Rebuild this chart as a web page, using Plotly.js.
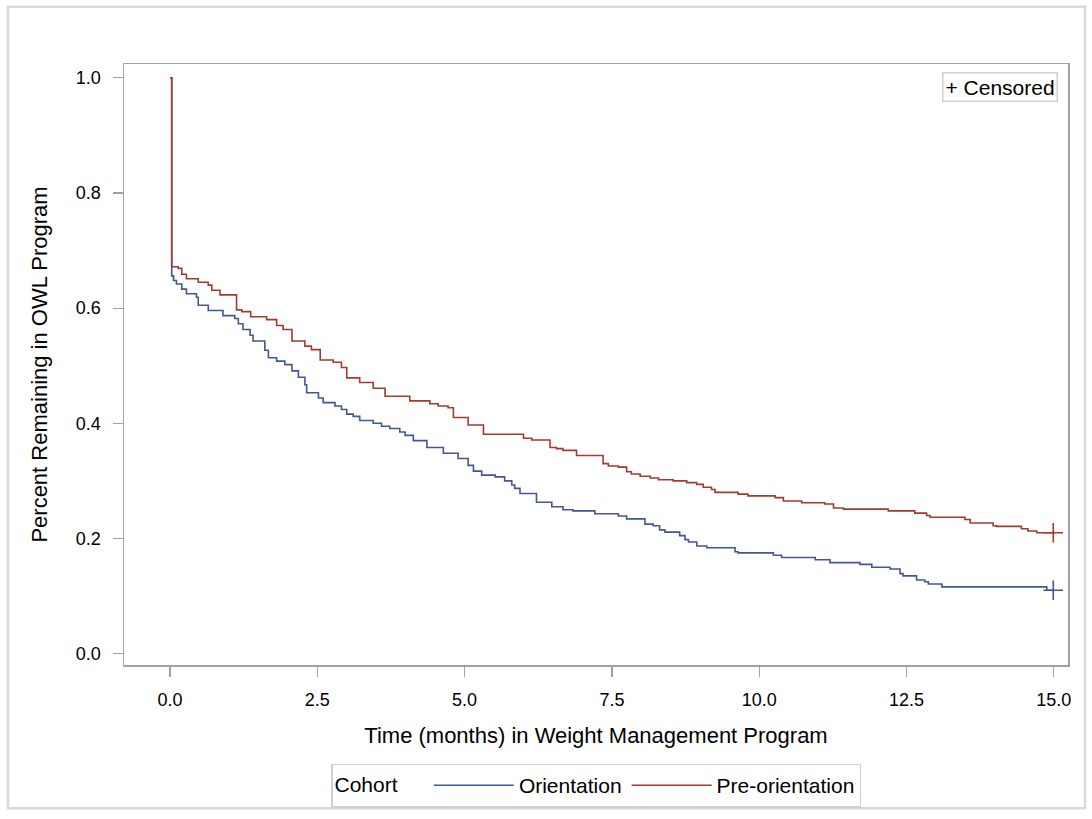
<!DOCTYPE html>
<html>
<head>
<meta charset="utf-8">
<script src="https://cdn.plot.ly/plotly-3.0.1.min.js"></script>
<style>
  html, body { margin: 0; padding: 0; background: #fff; }
  #chart { width: 1092px; height: 819px; }
</style>
</head>
<body>
<div id="chart"></div>
<script>
// Orientation cohort (Kaplan-Meier steps: time of event, survival after event)
const orientTime = [0, 0.03, 0.06, 0.11, 0.20, 0.28, 0.45, 0.48, 0.65, 0.90, 1.10, 1.16, 1.24, 1.36, 1.41, 1.61, 1.67, 1.81, 1.95, 2.07, 2.18, 2.29, 2.32, 2.52, 2.60, 2.80, 2.91, 3.00, 3.11, 3.22, 3.45, 3.59, 3.73, 3.90, 3.99, 4.13, 4.36, 4.64, 4.89, 5.06, 5.15, 5.29, 5.52, 5.68, 5.80, 5.85, 5.94, 6.22, 6.48, 6.67, 6.84, 7.21, 7.61, 7.75, 8.06, 8.20, 8.31, 8.40, 8.65, 8.74, 8.80, 8.94, 9.11, 9.59, 9.64, 10.24, 10.38, 10.95, 11.20, 11.71, 11.91, 12.22, 12.39, 12.44, 12.67, 12.81, 12.87, 13.10, 14.88, 14.99];
const orientSurv = [1.0, 0.656, 0.648, 0.642, 0.633, 0.625, 0.619, 0.605, 0.596, 0.587, 0.582, 0.573, 0.563, 0.553, 0.543, 0.527, 0.514, 0.508, 0.502, 0.491, 0.480, 0.467, 0.453, 0.444, 0.436, 0.430, 0.424, 0.416, 0.412, 0.405, 0.400, 0.395, 0.391, 0.385, 0.379, 0.370, 0.358, 0.348, 0.339, 0.327, 0.317, 0.310, 0.307, 0.300, 0.293, 0.287, 0.278, 0.263, 0.255, 0.250, 0.248, 0.243, 0.239, 0.234, 0.225, 0.222, 0.215, 0.211, 0.205, 0.198, 0.194, 0.187, 0.184, 0.177, 0.175, 0.171, 0.167, 0.163, 0.158, 0.155, 0.150, 0.147, 0.139, 0.135, 0.128, 0.125, 0.121, 0.116, 0.110, 0.110];

// Pre-orientation cohort
const preTime = [0, 0.03, 0.14, 0.20, 0.28, 0.48, 0.65, 0.71, 0.85, 1.13, 1.22, 1.37, 1.64, 1.81, 1.92, 2.07, 2.29, 2.40, 2.55, 2.77, 2.91, 3.00, 3.22, 3.45, 3.65, 4.07, 4.41, 4.55, 4.72, 4.81, 5.06, 5.32, 6.00, 6.14, 6.45, 6.56, 6.67, 6.90, 7.35, 7.44, 7.61, 7.75, 7.83, 7.98, 8.15, 8.29, 8.54, 8.77, 8.94, 9.05, 9.19, 9.25, 9.64, 9.81, 10.27, 10.41, 10.72, 11.11, 11.26, 11.43, 12.19, 12.64, 12.84, 12.90, 13.49, 13.58, 13.97, 14.03, 14.45, 14.56, 14.71, 14.99];
const preSurv = [1.0, 0.672, 0.669, 0.659, 0.651, 0.645, 0.640, 0.631, 0.623, 0.597, 0.594, 0.585, 0.580, 0.570, 0.563, 0.543, 0.534, 0.528, 0.510, 0.506, 0.497, 0.479, 0.471, 0.461, 0.447, 0.439, 0.434, 0.430, 0.427, 0.410, 0.397, 0.381, 0.374, 0.371, 0.358, 0.356, 0.353, 0.344, 0.330, 0.326, 0.324, 0.316, 0.312, 0.308, 0.305, 0.302, 0.300, 0.297, 0.294, 0.289, 0.285, 0.280, 0.277, 0.274, 0.271, 0.265, 0.262, 0.260, 0.253, 0.251, 0.248, 0.244, 0.240, 0.237, 0.233, 0.227, 0.222, 0.221, 0.217, 0.213, 0.210, 0.210];

const cohortNames = ['Orientation', 'Pre-orientation'];
const xTickVals = [0, 2.5, 5, 7.5, 10, 12.5, 15];
const yTickVals = [0, 0.2, 0.4, 0.6, 0.8, 1.0];

const blue = '#445694';
const red = '#A23A2E';
const frame = '#9ea3a8';
const font = 'Liberation Sans, Arial, sans-serif';

const last = a => a[a.length - 1];

const traces = [
  { x: orientTime, y: orientSurv, type: 'scatter', mode: 'lines', name: cohortNames[0],
    line: { color: blue, width: 1.6, shape: 'hv' }, hoverinfo: 'x+y' },
  { x: preTime, y: preSurv, type: 'scatter', mode: 'lines', name: cohortNames[1],
    line: { color: red, width: 1.6, shape: 'hv' }, hoverinfo: 'x+y' },
  { x: [last(orientTime)], y: [last(orientSurv)], type: 'scatter', mode: 'markers', showlegend: false,
    marker: { symbol: 'cross-thin-open', size: 14, color: blue, line: { color: blue, width: 1.6 } } },
  { x: [last(preTime)], y: [last(preSurv)], type: 'scatter', mode: 'markers', showlegend: false,
    marker: { symbol: 'cross-thin-open', size: 14, color: red, line: { color: red, width: 1.6 } } }
];

const axisCommon = {
  showline: true, mirror: true, linecolor: frame, linewidth: 1.5,
  ticks: 'outside', ticklen: 10, tickwidth: 1.2, tickcolor: frame,
  showgrid: false, zeroline: false, tickformat: '.1f',
  tickfont: { family: font, size: 18, color: '#000' }
};

const layout = {
  width: 1092, height: 819,
  margin: { l: 124, r: 24, t: 64, b: 147 },
  paper_bgcolor: '#fff', plot_bgcolor: '#fff',
  font: { family: font, color: '#000' },
  xaxis: Object.assign({}, axisCommon, {
    range: [-0.78, 15.24], tickvals: xTickVals, ticklabelstandoff: 8,
    title: { text: 'Time (months) in Weight Management Program', font: { family: font, size: 22 }, standoff: 18 }
  }),
  yaxis: Object.assign({}, axisCommon, {
    range: [-0.0197, 1.024], tickvals: yTickVals, ticklabelstandoff: 8,
    title: { text: 'Percent Remaining in OWL Program', font: { family: font, size: 22 }, standoff: 22 }
  }),
  showlegend: true,
  legend: {
    orientation: 'h', x: 0.5, xanchor: 'center', y: -0.164, yanchor: 'top',
    bordercolor: '#d0d0d0', borderwidth: 1.5, bgcolor: '#fff',
    font: { family: font, size: 21 },
    title: { text: 'Cohort&nbsp;&nbsp;&nbsp;&nbsp;', font: { family: font, size: 21 } },
    itemwidth: 80, tracegroupgap: 0
  },
  annotations: [{
    xref: 'paper', yref: 'paper', x: 1, y: 1, xanchor: 'right', yanchor: 'top',
    xshift: -10, yshift: -8, showarrow: false,
    text: '+ Censored', font: { family: font, size: 21, color: '#000' },
    bordercolor: '#d0d0d0', borderwidth: 1.5, borderpad: 2, bgcolor: '#fff'
  }],
  shapes: [{
    type: 'rect', xref: 'paper', yref: 'paper',
    x0: -0.1229, x1: 1.018, y0: -0.2385, y1: 1.0954,
    line: { color: '#d9d9d9', width: 2.5 }, fillcolor: 'rgba(0,0,0,0)', layer: 'below'
  }]
};

Plotly.newPlot('chart', traces, layout, { displayModeBar: false, staticPlot: true });
</script>
</body>
</html>
